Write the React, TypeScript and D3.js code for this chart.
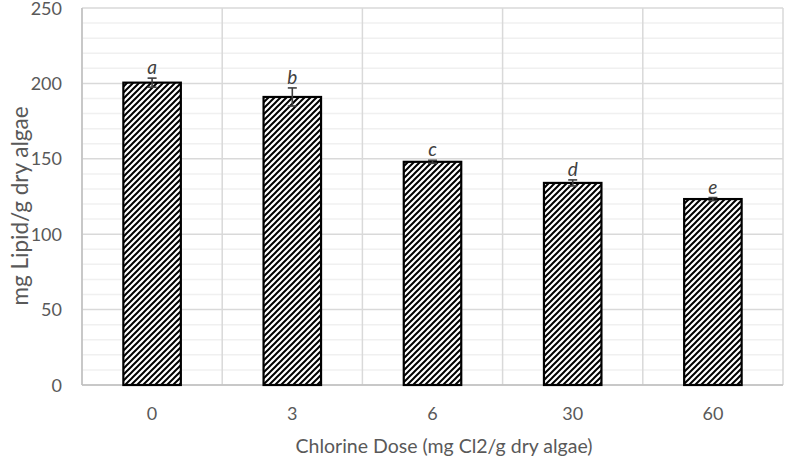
import React from "react";
import * as d3 from "d3";

const categories = ["0", "3", "6", "30", "60"];
const values = [200.5, 191, 148, 134, 123.3];
const errors = [3, 6, 1, 2, 1];
const letters = ["a", "b", "c", "d", "e"];
const yMajorTicks = [0, 50, 100, 150, 200, 250];
const yMinorTicks = d3.range(0, 251, 10);

const W = 787;
const H = 461;
const left = 82;
const right = 783;
const top = 8;
const bottom = 385;
const FONT = "Lato, 'Open Sans', sans-serif";
const TEXT = "#595959";

export default function App() {
  const x = d3.scaleBand<string>().domain(categories).range([left, right]).padding(0);
  const y = d3.scaleLinear().domain([0, 250]).range([bottom, top]);
  const barW = x.bandwidth() * 0.41;
  const boundaries = [...categories.map((c) => x(c) as number), right];

  return (
    <svg
      width={W}
      height={H}
      style={{ position: "absolute", left: 0, top: 0, display: "block", background: "#fff" }}
    >
      <defs>
        <pattern id="hatch" patternUnits="userSpaceOnUse" width={6} height={6}>
          <rect width={6} height={6} fill="#fff" />
          <path
            d="M-1.5,1.5 L1.5,-1.5 M0,6 L6,0 M4.5,7.5 L7.5,4.5"
            stroke="#000"
            strokeWidth={2}
          />
        </pattern>
      </defs>
      <rect width={W} height={H} fill="#fff" />
      {/* minor grid */}
      {yMinorTicks
        .filter((t) => t % 50 !== 0)
        .map((t) => (
          <line key={"mi" + t} x1={left} x2={right} y1={y(t)} y2={y(t)} stroke="#f0f0f0" strokeWidth={1.5} />
        ))}
      {/* major grid */}
      {yMajorTicks.map((t) => (
        <line key={"ma" + t} x1={left} x2={right} y1={y(t)} y2={y(t)} stroke="#d9d9d9" strokeWidth={1.5} />
      ))}
      {/* vertical grid */}
      {boundaries.map((b, i) => (
        <line key={"v" + i} x1={b} x2={b} y1={top} y2={bottom} stroke="#d9d9d9" strokeWidth={1.5} />
      ))}
      {/* axis lines */}
      <line x1={left} x2={right} y1={bottom} y2={bottom} stroke="#bfbfbf" strokeWidth={1.5} />
      <line x1={left} x2={left} y1={top} y2={bottom} stroke="#bfbfbf" strokeWidth={1.5} />

      {/* bars */}
      {categories.map((c, i) => {
        const cx = (x(c) as number) + x.bandwidth() / 2;
        return (
          <rect
            key={"b" + c}
            x={cx - barW / 2}
            y={y(values[i])}
            width={barW}
            height={y(0) - y(values[i])}
            fill="url(#hatch)"
            stroke="#000"
            strokeWidth={2.2}
          />
        );
      })}
      {/* error bars */}
      {categories.map((c, i) => {
        const cx = (x(c) as number) + x.bandwidth() / 2;
        const y1 = y(values[i] + errors[i]);
        const y2 = y(values[i] - errors[i]);
        return (
          <g key={"e" + c} stroke="#404040" strokeWidth={1.6}>
            <line x1={cx} x2={cx} y1={y1} y2={y2} />
            <line x1={cx - 4.5} x2={cx + 4.5} y1={y1} y2={y1} />
            <line x1={cx - 4.5} x2={cx + 4.5} y1={y2} y2={y2} />
          </g>
        );
      })}
      {/* letters */}
      {categories.map((c, i) => {
        const cx = (x(c) as number) + x.bandwidth() / 2;
        return (
          <text
            key={"l" + c}
            x={cx}
            y={y(values[i] + errors[i]) - 4}
            textAnchor="middle"
            fontFamily={FONT}
            fontStyle="italic"
            fontSize={19}
            fill="#404040"
          >
            {letters[i]}
          </text>
        );
      })}
      {/* y tick labels */}
      {yMajorTicks.map((t) => (
        <text
          key={"yt" + t}
          x={62}
          y={y(t) + 6.5}
          textAnchor="end"
          fontFamily={FONT}
          fontSize={18}
          fill={TEXT}
        >
          {t}
        </text>
      ))}
      {/* x tick labels */}
      {categories.map((c) => (
        <text
          key={"xt" + c}
          x={(x(c) as number) + x.bandwidth() / 2}
          y={420}
          textAnchor="middle"
          fontFamily={FONT}
          fontSize={18}
          fill={TEXT}
        >
          {c}
        </text>
      ))}
      {/* axis titles */}
      <text x={444} y={453} textAnchor="middle" fontFamily={FONT} fontSize={19.5} fill={TEXT}>
        Chlorine Dose (mg Cl2/g dry algae)
      </text>
      <text
        transform="translate(28,206) rotate(-90)"
        textAnchor="middle"
        fontFamily={FONT}
        fontSize={22.5}
        fill={TEXT}
      >
        mg Lipid/g dry algae
      </text>
    </svg>
  );
}
